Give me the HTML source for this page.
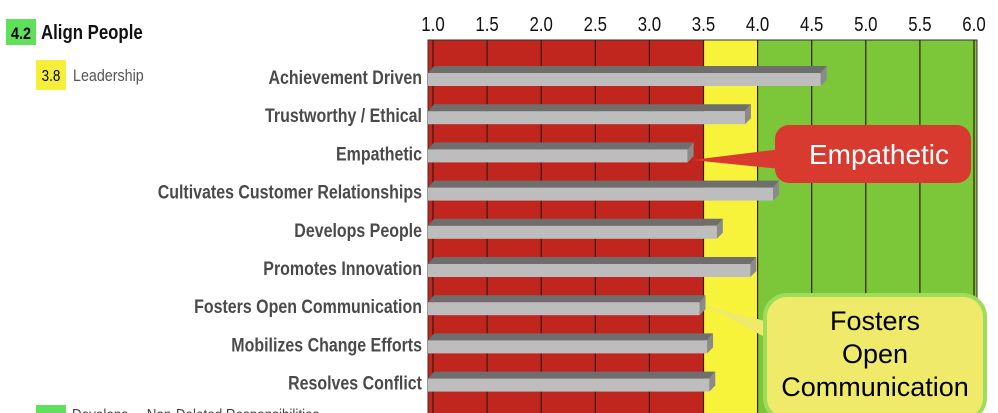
<!DOCTYPE html>
<html><head><meta charset="utf-8"><style>
body{margin:0;width:998px;height:413px;overflow:hidden;background:#fff;font-family:"Liberation Sans",sans-serif}
svg{display:block}
</style></head><body>
<svg width="998" height="413">
<g id="bg"></g>
<g id="ticks"></g>
<g id="labels"></g>
<g id="bars"></g>
<rect x="6" y="19" width="30" height="26" fill="#5ee05a"/>
<text class="nar" x="21" y="39" font-size="17" text-anchor="middle" font-weight="bold">4.2</text>
<text class="nar" x="41" y="39" font-size="20" font-weight="bold" fill="#111">Align People</text>
<rect x="36" y="60" width="30" height="30" fill="#f5ef3a"/>
<text class="nar" x="51" y="81" font-size="16" text-anchor="middle">3.8</text>
<text class="nar" x="73" y="81" font-size="17" fill="#555">Leadership</text>
<rect x="36" y="405" width="30" height="10" fill="#5ee05a"/>
<text class="nar" x="72" y="420" font-size="16" fill="#444">Develops ...   Non-Deleted Responsibilities</text>
<g>
<polygon points="692,160 790,148 790,170" fill="#d93a30"/>
<rect x="775" y="125" width="196" height="58" rx="14" fill="#d93a30"/>
<text x="879" y="164" font-size="28" fill="#fff" text-anchor="middle">Empathetic</text>
</g>
<g>
<polygon points="704,305 780,325 780,345" fill="#f0ea6a"/>
<rect x="765" y="295" width="220" height="125" rx="22" fill="#f0ea6a" stroke="#9fdc5a" stroke-width="4"/>
<text x="875" y="330" font-size="27" text-anchor="middle">Fosters</text>
<text x="875" y="363" font-size="27" text-anchor="middle">Open</text>
<text x="875" y="396" font-size="27" text-anchor="middle">Communication</text>
</g>
</svg>
<script>
const categories=["Achievement Driven","Trustworthy / Ethical","Empathetic","Cultivates Customer Relationships","Develops People","Promotes Innovation","Fosters Open Communication","Mobilizes Change Efforts","Resolves Conflict"];
const scores=[4.62,3.92,3.39,4.18,3.66,3.97,3.50,3.57,3.59];
const tickLabels=["1.0","1.5","2.0","2.5","3.0","3.5","4.0","4.5","5.0","5.5","6.0"];
const ns="http://www.w3.org/2000/svg";
const x=v=>433+(v-1)*108.2;
const rowY=i=>77+i*38.2;
function mk(p,t,a){const e=document.createElementNS(ns,t);for(const k in a)e.setAttribute(k,a[k]);document.getElementById(p).appendChild(e);return e;}
let e;
e=mk("bg","rect",{x:428,y:40,width:x(3.5)-428,height:380,fill:"#c0261e"});


e=mk("bg","rect",{x:x(3.5),y:40,width:x(4)-x(3.5),height:380,fill:"#f7f23a"});


e=mk("bg","rect",{x:x(4),y:40,width:x(6)-x(4)+3,height:380,fill:"#7cc63a"});


mk("bg","rect",{x:428,y:40,width:x(6)+3-428,height:380,fill:"none",stroke:"#333","stroke-width":1});
tickLabels.forEach((t,i)=>{const v=parseFloat(t);
 const l=mk("ticks","line",{x1:x(v),x2:x(v),y1:40,y2:413,stroke:"#3a1a10","stroke-width":1.2});
 
 
 const tx=mk("ticks","text",{x:x(v),y:31,"font-size":20,"text-anchor":"middle",fill:"#111",class:"nar"});
 tx.textContent=t;
 
 
});
categories.forEach((c,i)=>{const cy=rowY(i);
 const t=mk("labels","text",{x:422,y:cy+7,"font-size":19,"text-anchor":"end",fill:"#4a4a4a","font-weight":"bold",class:"nar"});
 t.textContent=c;
 
 
 const g=mk("bars","g",{});
 
 
 const w=x(scores[i])-428-4;
 const d=document.createElementNS(ns,"polygon");
 d.setAttribute("points",`428,${cy-4} 434,${cy-11} ${428+w+6},${cy-11} ${428+w},${cy-4}`);
 d.setAttribute("fill","#6e6e6e");g.appendChild(d);
 const r=document.createElementNS(ns,"rect");
 r.setAttribute("x",428);r.setAttribute("y",cy-4);r.setAttribute("width",w);r.setAttribute("height",13);r.setAttribute("fill","#bdbdbd");g.appendChild(r);
 const s=document.createElementNS(ns,"polygon");
 s.setAttribute("points",`${428+w},${cy-4} ${428+w+6},${cy-11} ${428+w+6},${cy+3} ${428+w},${cy+9}`);
 s.setAttribute("fill","#8a8a8a");g.appendChild(s);
});
document.querySelectorAll("text.nar").forEach(t=>{
 const L=t.getComputedTextLength();
 if(L>0){t.setAttribute("textLength",(L*0.84).toFixed(1));t.setAttribute("lengthAdjust","spacingAndGlyphs");}
});
</script>
</body></html>
